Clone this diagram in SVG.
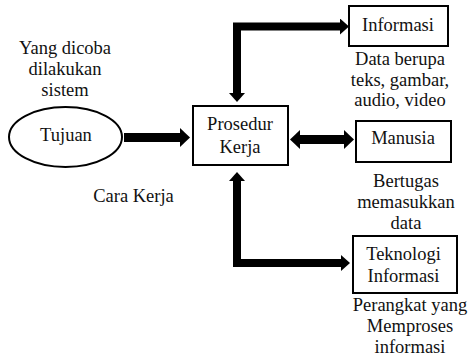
<svg xmlns="http://www.w3.org/2000/svg" width="474" height="363" viewBox="0 0 474 363">
<style>
text{font-family:"Liberation Serif","Times New Roman",serif;font-size:18.5px;fill:#111;text-anchor:middle}
.box{fill:#fff;stroke:#000;stroke-width:2}
.con{fill:none;stroke:#000;stroke-linejoin:miter;stroke-linecap:butt}
</style>
<defs>
<marker id="ah" markerUnits="userSpaceOnUse" viewBox="0 0 9 16" refX="0" refY="8" markerWidth="9" markerHeight="16" orient="auto-start-reverse">
<path d="M0,0 L9,8 L0,16 z" fill="#000"/>
</marker>
<marker id="ahL" markerUnits="userSpaceOnUse" viewBox="0 0 10 19" refX="0" refY="9.5" markerWidth="10" markerHeight="19" orient="auto-start-reverse">
<path d="M0,0 L10,9.5 L0,19 z" fill="#000"/>
</marker>
</defs>
<rect width="474" height="363" fill="#fff"/>
<g id="connectors">
<path class="con" stroke-width="8" d="M237,93 V26.5 H340" marker-start="url(#ah)" marker-end="url(#ah)"/>
<path class="con" stroke-width="8" d="M237,181 V263 H341" marker-start="url(#ah)" marker-end="url(#ah)"/>
<path class="con" stroke-width="9" d="M300,139.5 H344" marker-start="url(#ahL)" marker-end="url(#ahL)"/>
<path class="con" stroke-width="9" d="M124,137.5 H180" marker-end="url(#ahL)"/>
</g>
<g id="tujuan">
<ellipse cx="65.5" cy="137" rx="56.5" ry="30" class="box"/>
<text x="66" y="141">Tujuan</text>
</g>
<g id="tujuan-label">
<text x="65" y="54">Yang dicoba</text>
<text x="65" y="75">dilakukan</text>
<text x="65" y="96">sistem</text>
</g>
<g id="prosedur">
<rect x="193" y="106" width="95" height="59" class="box"/>
<text x="240" y="130">Prosedur</text>
<text x="240" y="153">Kerja</text>
</g>
<g id="cara-kerja">
<text x="133.5" y="202">Cara Kerja</text>
</g>
<g id="informasi">
<rect x="349" y="6" width="99" height="40" class="box"/>
<text x="398" y="31">Informasi</text>
</g>
<g id="informasi-label">
<text x="400" y="65">Data berupa</text>
<text x="400" y="86">teks, gambar,</text>
<text x="400" y="106">audio, video</text>
</g>
<g id="manusia">
<rect x="356" y="121" width="95" height="41" class="box"/>
<text x="403" y="144">Manusia</text>
</g>
<g id="manusia-label">
<text x="406" y="187">Bertugas</text>
<text x="406" y="208">memasukkan</text>
<text x="406" y="229">data</text>
</g>
<g id="teknologi">
<rect x="353" y="236" width="104" height="57" class="box"/>
<text x="403.5" y="260">Teknologi</text>
<text x="403.5" y="282">Informasi</text>
</g>
<g id="teknologi-label">
<text x="410" y="311">Perangkat yang</text>
<text x="410" y="332">Memproses</text>
<text x="410" y="353">informasi</text>
</g>
</svg>
